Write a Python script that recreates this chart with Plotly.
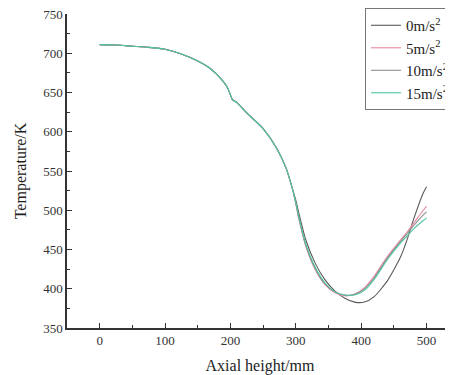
import plotly.graph_objects as go

# Axial height (mm)
x_common = [0, 25, 50, 75, 100, 125, 150, 170, 185, 195, 200, 203, 210, 225, 250, 270, 285, 295]
t_common = [711, 710.5, 709, 707.5, 705, 699, 690, 680, 668, 657, 647, 641, 637, 624, 604, 580, 554, 527]

x_tail = [300, 305, 315, 330, 345, 360, 375, 390, 405, 420, 440, 460, 470, 480, 495, 500]
t_0 = [513, 495, 463, 432, 411, 397, 388, 383, 383, 390, 410, 440, 462, 488, 522, 530]
t_5 = [508, 488, 455, 424, 405, 395, 391, 393, 401, 416, 441, 462, 472, 483, 500, 505]
t_10 = [509, 489, 456, 425, 406, 396, 392, 393, 400, 414, 439, 460, 470, 480, 494, 498]
t_15 = [510, 490, 458, 427, 407, 396, 392, 392, 398, 412, 437, 458, 467, 476, 487, 490]

series_names = ["0m/s<sup>2</sup>", "5m/s<sup>2</sup>", "10m/s<sup>2</sup>", "15m/s<sup>2</sup>"]
series_tails = [t_0, t_5, t_10, t_15]
colors = ["#5a5a5a", "#e8899c", "#909090", "#4cc4a4"]

x_ticks = [0, 100, 200, 300, 400, 500]
y_ticks = [350, 400, 450, 500, 550, 600, 650, 700, 750]

fig = go.Figure()
for i, (name, tail, c) in enumerate(zip(series_names, series_tails, colors)):
    fig.add_trace(go.Scatter(
        x=x_common + x_tail, y=t_common + tail, mode="lines", name=name,
        legendgroup="g%d" % i,
        line=dict(color=c, width=1.1, shape="spline", smoothing=0.6),
    ))

font_family = "Liberation Serif, Times New Roman, serif"
# The page body adds an 8px offset, so the figure is 8px smaller than the window.
fig.update_layout(
    width=445, height=367,
    margin=dict(l=59, r=0, t=6, b=47, autoexpand=False),
    paper_bgcolor="white", plot_bgcolor="white",
    font=dict(family=font_family, color="#333333", size=13),
    showlegend=True,
    legend=dict(
        x=0.772, y=1.019, xanchor="left", yanchor="top",
        bordercolor="#777777", borderwidth=1, bgcolor="white",
        font=dict(family=font_family, size=15, color="#222222"),
        itemwidth=30, tracegroupgap=0,
    ),
    xaxis=dict(
        range=[-50, 540.5], tickvals=x_ticks, ticks="inside", ticklen=5,
        tickwidth=1.2, tickcolor="#333333",
        showline=True, linecolor="#333333", linewidth=1.5, mirror=False,
        showgrid=False, zeroline=False, automargin=False,
        ticklabeloverflow="allow",
        minor=dict(ticks="inside", dtick=50, ticklen=3, tickcolor="#333333", showgrid=False),
        title=dict(text="Axial height/mm", font=dict(size=16, family=font_family, color="#222222"), standoff=13),
        tickfont=dict(size=13, family=font_family, color="#333333"),
    ),
    yaxis=dict(
        range=[350, 750], tickvals=y_ticks, ticks="inside", ticklen=5,
        tickwidth=1.2, tickcolor="#333333",
        showline=True, linecolor="#333333", linewidth=1.5, mirror=False,
        showgrid=False, zeroline=False, automargin=False,
        ticklabeloverflow="allow",
        minor=dict(ticks="inside", dtick=25, ticklen=3, tickcolor="#333333", showgrid=False),
        title=dict(text="Temperature/K", font=dict(size=16, family=font_family, color="#222222"), standoff=13),
        tickfont=dict(size=13, family=font_family, color="#333333"),
    ),
)

fig.write_html("out.html")
